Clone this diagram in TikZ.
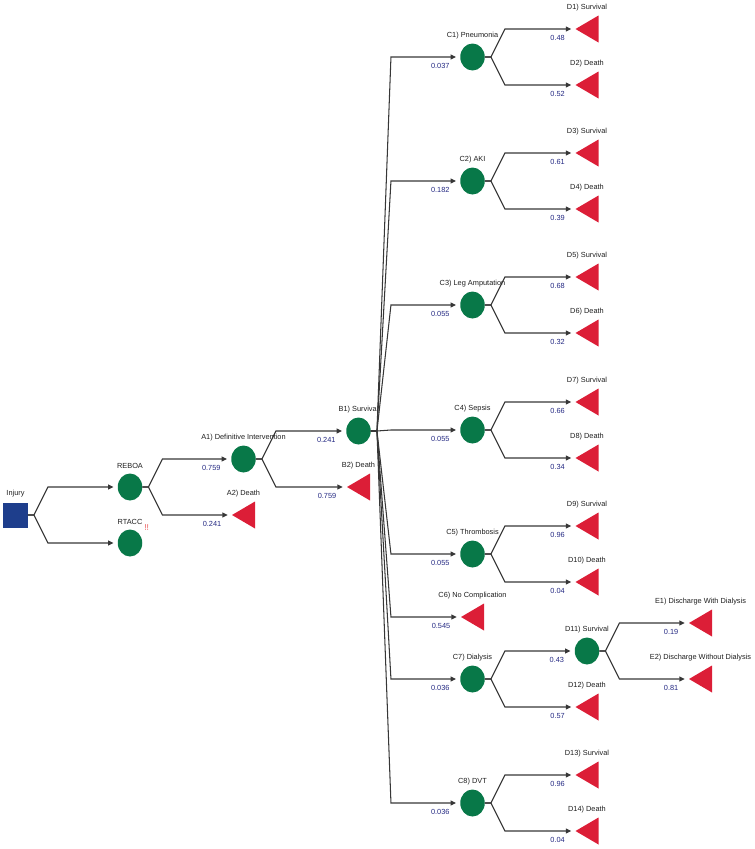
\documentclass[tikz,border=0pt]{standalone}
\usepackage{fontspec}
\setmainfont{Liberation Sans}
\usetikzlibrary{arrows.meta,calc,shapes.geometric}
\definecolor{nodegreen}{RGB}{8,120,72}
\definecolor{leafred}{RGB}{220,30,55}
\definecolor{rootblue}{RGB}{30,62,140}
\definecolor{linegray}{RGB}{55,55,55}
\definecolor{probblue}{RGB}{35,40,130}
\definecolor{textgray}{RGB}{30,30,30}
\definecolor{warnred}{RGB}{235,90,90}
\tikzset{
  chance/.style={ellipse, fill=nodegreen, minimum width=24.5bp, minimum height=27bp, inner sep=0pt},
  leaf/.style={inner sep=0pt, minimum width=23bp, minimum height=27bp,
    path picture={\fill[leafred] (path picture bounding box.west) -- (path picture bounding box.north east) -- (path picture bounding box.south east) -- cycle;}},
  root/.style={rectangle, fill=rootblue, minimum width=24.5bp, minimum height=25bp, inner sep=0pt},
  conn/.style={draw=linegray, line width=1.05bp, -{Triangle[length=5.5bp,width=5bp]}, shorten >=4bp},
  nm/.style={font=\fontsize{7.4}{9}\selectfont, text=textgray, inner sep=0pt},
  prob/.style={font=\fontsize{7.4}{9}\selectfont, text=probblue, inner sep=0pt, anchor=east},
}
\newcommand\branch[3]{\draw[conn] let \p1=(#1.east), \p2=(#2.west) in (\p1) -- ++(6bp,0) -- (\x1+20bp,\y2) -- (\p2) node[prob] (p#2) at (\x2-10bp,\y2-8.5bp) {#3};}
\newcommand\nlabel[2]{\node[nm] (l#1) at ($(#1)+(0,-21.5)$) {#2};}
\begin{document}
\begin{tikzpicture}[x=1bp,y=-1bp]
\useasboundingbox (0,0) rectangle (755,849);
% nodes
\node[root] (Inj) at (15.5,515) {};
\node[chance] (REBOA) at (130,487) {};
\node[chance] (RTACC) at (130,543) {};
\node[chance] (A1) at (243.5,459) {};
\node[leaf] (A2) at (243.5,515) {};
\node[chance] (B1) at (358.5,431) {};
\node[leaf] (B2) at (358.5,487) {};
\node[chance] (C1) at (472.5,57) {};
\node[chance] (C2) at (472.5,181) {};
\node[chance] (C3) at (472.5,305) {};
\node[chance] (C4) at (472.5,430) {};
\node[chance] (C5) at (472.5,554) {};
\node[leaf] (C6) at (472.5,617) {};
\node[chance] (C7) at (472.5,679) {};
\node[chance] (C8) at (472.5,803) {};
\node[leaf] (D1) at (587,29) {};
\node[leaf] (D2) at (587,85) {};
\node[leaf] (D3) at (587,153) {};
\node[leaf] (D4) at (587,209) {};
\node[leaf] (D5) at (587,277) {};
\node[leaf] (D6) at (587,333) {};
\node[leaf] (D7) at (587,402) {};
\node[leaf] (D8) at (587,458) {};
\node[leaf] (D9) at (587,526) {};
\node[leaf] (D10) at (587,582) {};
\node[chance] (D11) at (587,651) {};
\node[leaf] (D12) at (587,707) {};
\node[leaf] (D13) at (587,775) {};
\node[leaf] (D14) at (587,831) {};
\node[leaf] (E1) at (700.5,623) {};
\node[leaf] (E2) at (700.5,679) {};
% name labels
\nlabel{Inj}{Injury}
\nlabel{REBOA}{REBOA}
\nlabel{RTACC}{RTACC}
\node[font=\fontsize{8.5}{10}\selectfont, text=warnred, inner sep=0pt, anchor=west] (warn) at ($(lRTACC.east)+(1.5,6)$) {!!};
\nlabel{A1}{A1) Definitive Intervention}
\nlabel{A2}{A2) Death}
\nlabel{B1}{B1) Survival}
\nlabel{B2}{B2) Death}
\nlabel{C1}{C1) Pneumonia}
\nlabel{C2}{C2) AKI}
\nlabel{C3}{C3) Leg Amputation}
\nlabel{C4}{C4) Sepsis}
\nlabel{C5}{C5) Thrombosis}
\nlabel{C6}{C6) No Complication}
\nlabel{C7}{C7) Dialysis}
\nlabel{C8}{C8) DVT}
\nlabel{D1}{D1) Survival}
\nlabel{D2}{D2) Death}
\nlabel{D3}{D3) Survival}
\nlabel{D4}{D4) Death}
\nlabel{D5}{D5) Survival}
\nlabel{D6}{D6) Death}
\nlabel{D7}{D7) Survival}
\nlabel{D8}{D8) Death}
\nlabel{D9}{D9) Survival}
\nlabel{D10}{D10) Death}
\nlabel{D11}{D11) Survival}
\nlabel{D12}{D12) Death}
\nlabel{D13}{D13) Survival}
\nlabel{D14}{D14) Death}
\nlabel{E1}{E1) Discharge With Dialysis}
\nlabel{E2}{E2) Discharge Without Dialysis}
% connectors
\branch{Inj}{REBOA}{}
\branch{Inj}{RTACC}{}
\branch{REBOA}{A1}{0.759}
\branch{REBOA}{A2}{0.241}
\branch{A1}{B1}{0.241}
\branch{A1}{B2}{0.759}
\branch{B1}{C1}{0.037}
\branch{B1}{C2}{0.182}
\branch{B1}{C3}{0.055}
\branch{B1}{C4}{0.055}
\branch{B1}{C5}{0.055}
\branch{B1}{C6}{0.545}
\branch{B1}{C7}{0.036}
\branch{B1}{C8}{0.036}
\branch{C1}{D1}{0.48}
\branch{C1}{D2}{0.52}
\branch{C2}{D3}{0.61}
\branch{C2}{D4}{0.39}
\branch{C3}{D5}{0.68}
\branch{C3}{D6}{0.32}
\branch{C4}{D7}{0.66}
\branch{C4}{D8}{0.34}
\branch{C5}{D9}{0.96}
\branch{C5}{D10}{0.04}
\branch{C7}{D11}{0.43}
\branch{C7}{D12}{0.57}
\branch{C8}{D13}{0.96}
\branch{C8}{D14}{0.04}
\branch{D11}{E1}{0.19}
\branch{D11}{E2}{0.81}
\end{tikzpicture}
\end{document}
